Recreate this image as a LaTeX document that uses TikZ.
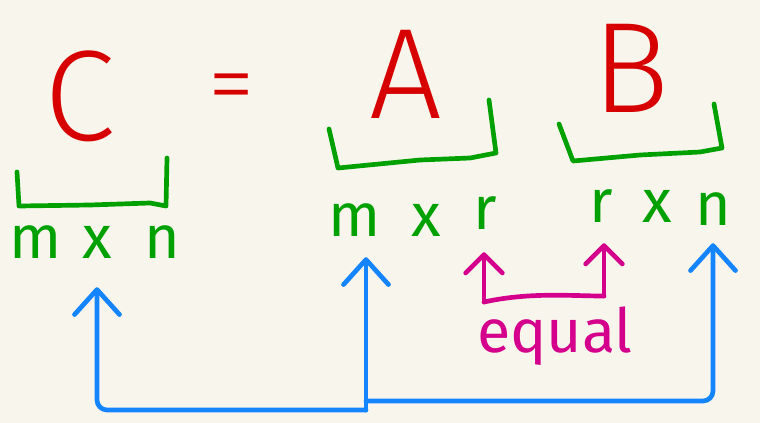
\documentclass[tikz,border=0pt]{standalone}
\usepackage{fontspec}
\setmainfont{Fira Sans}
\newfontfamily\thinfont{Fira Sans Light}
\usetikzlibrary{arrows.meta, calc}
\definecolor{paper}{RGB}{248,246,236}
\definecolor{inkRed}{RGB}{214,0,0}
\definecolor{inkGreen}{RGB}{0,160,0}
\definecolor{inkBlue}{RGB}{20,132,255}
\definecolor{inkPink}{RGB}{212,0,140}
\tikzset{
  pen/.style={line width=4pt, line cap=round, line join=round},
  big/.style={font=\thinfont\fontsize{110}{110}\selectfont, text=inkRed, inner sep=0pt, anchor=base},
  dim/.style={font=\fontsize{52}{52}\selectfont, text=inkGreen, inner sep=0pt, anchor=base},
  barbB/.style={-{Straight Barb[round, length=0.75cm, width=1.35cm]}},
  barbP/.style={-{Straight Barb[round, length=0.55cm, width=1.1cm]}},
}
\begin{document}
\begin{tikzpicture}[x=0.03cm, y=-0.03cm]
\fill[paper] (0,0) rectangle (760,423);
\useasboundingbox (0,0) rectangle (760,423);

% matrices
\node[big] (C) at (80,140) {C};
\node[big, font=\thinfont\fontsize{80}{80}\selectfont, anchor=center] (eq) at (232,95) {=};
\node[big] (A) at (406,118) {A};
\node[big] (B) at (631,112) {B};

% dimensions
\node[dim] (mC) at (36,258) {m};
\node[dim] (xC) at (97,258) {x};
\node[dim] (nC) at (162,258) {n};
\node[dim] (mA) at (355,236) {m};
\node[dim] (xA) at (426,236) {x};
\node[dim] (rA) at (485,229) {r};
\node[dim] (rB) at (601,222) {r};
\node[dim] (xB) at (657,222) {x};
\node[dim] (nB) at (713,225) {n};

% brackets
\draw[pen, inkGreen] (17,172) -- (19,206) -- (90,205) -- (150,203) -- (166,206) -- (167,158);
\draw[pen, inkGreen] (329,129) -- (338,168) -- (420,160) -- (470,158) -- (496,153) -- (489,100);
\draw[pen, inkGreen] (559,124) -- (573,161) -- (640,155) -- (700,152) -- (722,148) -- (714,104);

% inner sizes must match
\coordinate (eqL) at (484,302);
\coordinate (eqR) at (604,296);
\draw[pen, inkPink] (eqL) .. controls (530,292) and (570,296) .. (eqR);
\draw[pen, inkPink, barbP, shorten >=0.69cm] (eqL) -- (eqL |- rA.south);
\draw[pen, inkPink, barbP, shorten >=0.63cm] (eqR) -- (eqR |- rB.south);
\node[dim, text=inkPink] (equal) at (555,352) {equal};

% outer sizes give the result
\coordinate (busM) at (366,410);
\coordinate (busR) at (366,401);
\draw[pen, inkBlue, barbB, rounded corners=0.3cm, shorten >=0.87cm] (busM) -- (busM -| xC.south) -- (xC.south);
\draw[pen, inkBlue, barbB, shorten >=0.63cm] (busM) -- (busM |- mA.south);
\draw[pen, inkBlue, rounded corners=0.3cm] (busM) -- (busR);
\draw[pen, inkBlue, barbB, rounded corners=0.3cm, shorten >=0.54cm] (busR) -- (busR -| nB.south) -- (nB.south);
\end{tikzpicture}
\end{document}
